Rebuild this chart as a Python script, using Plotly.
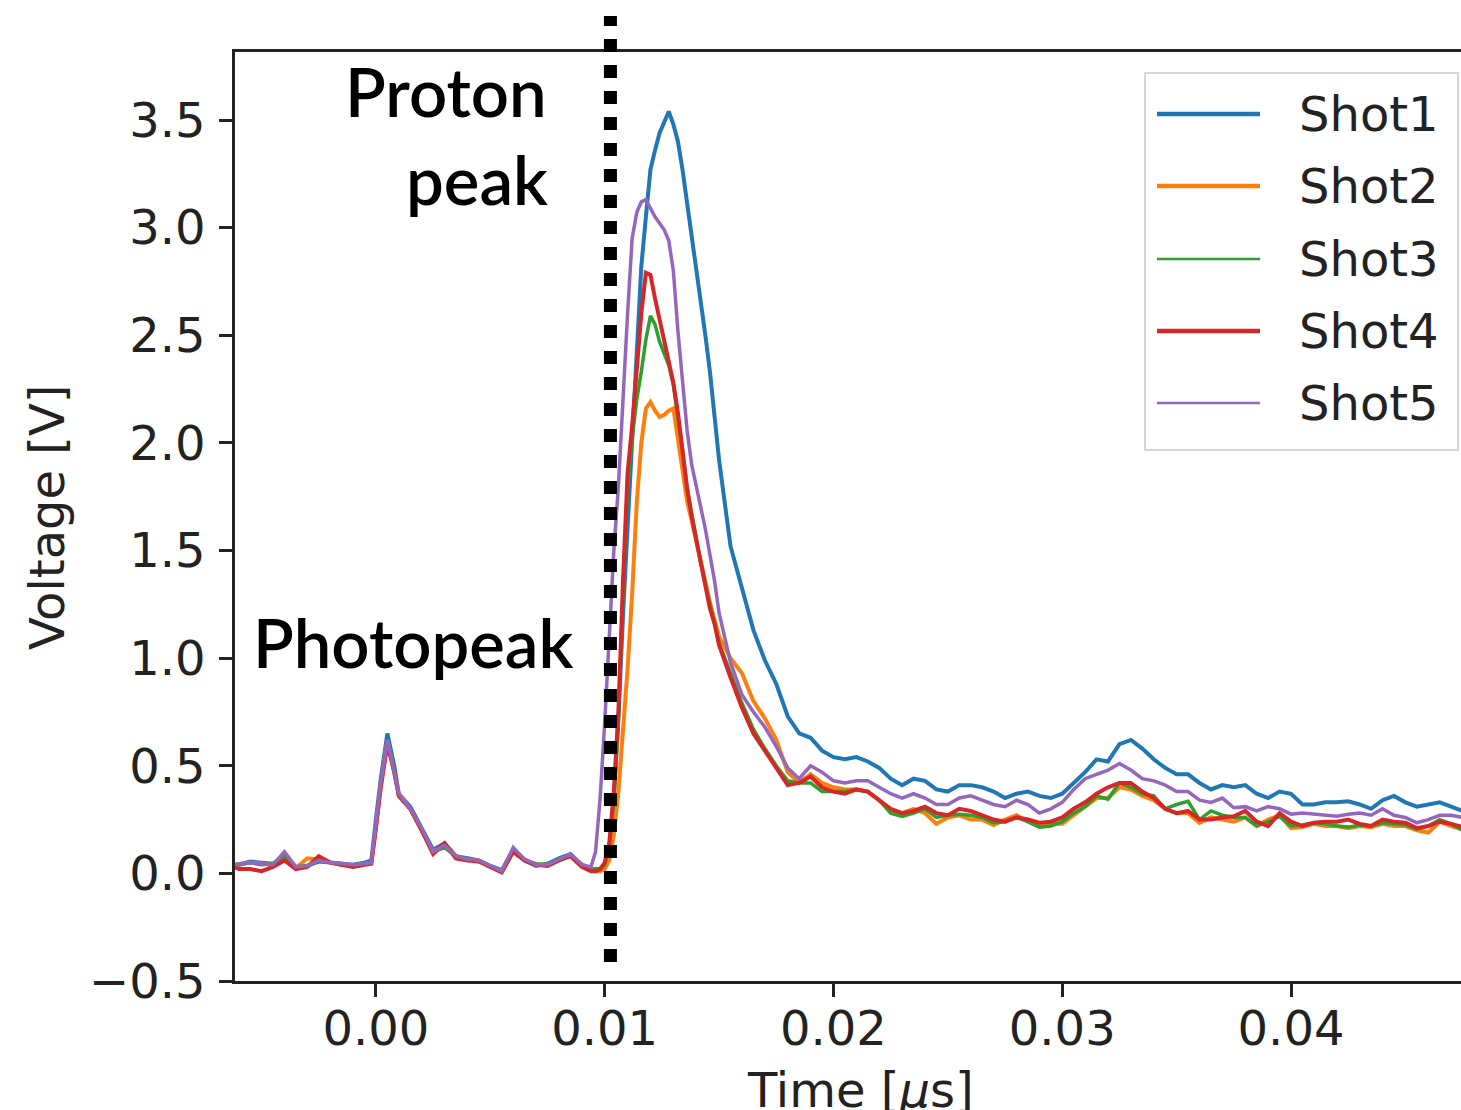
import plotly.graph_objects as go

# ---------------- data ----------------
time_us = [
    -0.0062, -0.0060, -0.0055, -0.0050, -0.0045, -0.0040, -0.0035, -0.0030, -0.0025, -0.0020, -0.0015, -0.0010, -0.0005, -0.0002,
    0.0000, 0.0002, 0.0005, 0.0008, 0.0010, 0.0015, 0.0020, 0.0025, 0.0030, 0.0035, 0.0040, 0.0045, 0.0050, 0.0055, 0.0060, 0.0065,
    0.0070, 0.0075, 0.0080, 0.0085, 0.0090, 0.0094,
    0.0096, 0.0098, 0.0100, 0.0102, 0.0104, 0.0106, 0.0108, 0.0110, 0.0112, 0.0114, 0.0116, 0.0118, 0.0120, 0.0122,
    0.0124, 0.0126, 0.0128, 0.0130, 0.0132, 0.0134, 0.0136, 0.0138, 0.0140, 0.0142, 0.0144, 0.0146, 0.0148, 0.0150,
    0.0155, 0.0160, 0.0165, 0.0170, 0.0175, 0.0180, 0.0185, 0.0190, 0.0195, 0.0200, 0.0205, 0.0210, 0.0215, 0.0220,
    0.0225, 0.0230, 0.0235, 0.0240, 0.0245, 0.0250, 0.0255, 0.0260, 0.0265, 0.0270, 0.0275, 0.0280, 0.0285, 0.0290,
    0.0295, 0.0300, 0.0305, 0.0310, 0.0315, 0.0320, 0.0325, 0.0330, 0.0335, 0.0340, 0.0345, 0.0350, 0.0355, 0.0360,
    0.0365, 0.0370, 0.0375, 0.0380, 0.0385, 0.0390, 0.0395, 0.0400, 0.0405, 0.0410, 0.0415, 0.0420, 0.0425, 0.0430,
    0.0435, 0.0440, 0.0445, 0.0450, 0.0455, 0.0460, 0.0465, 0.0470, 0.0475,
]

shot1 = [
    0.04, 0.04, 0.055, 0.05, 0.045, 0.08, 0.03, 0.035, 0.055, 0.05, 0.045, 0.04, 0.05, 0.06,
    0.25, 0.43, 0.65, 0.50, 0.37, 0.31, 0.21, 0.11, 0.14, 0.08, 0.07, 0.06, 0.035, 0.015, 0.11, 0.06,
    0.035, 0.045, 0.07, 0.09, 0.04, 0.02,
    0.02, 0.02, 0.04, 0.12, 0.35, 0.72, 1.20, 1.60, 1.98, 2.38, 2.82, 3.05, 3.27, 3.36,
    3.44, 3.49, 3.54, 3.48, 3.40, 3.27, 3.12, 2.97, 2.82, 2.66, 2.50, 2.33, 2.13, 1.92,
    1.52, 1.32, 1.13, 0.99, 0.88, 0.73, 0.65, 0.63, 0.57, 0.54, 0.53, 0.54, 0.52, 0.49,
    0.44, 0.41, 0.44, 0.43, 0.39, 0.38, 0.41, 0.41, 0.40, 0.38, 0.35, 0.37, 0.38, 0.36,
    0.35, 0.37, 0.42, 0.47, 0.53, 0.52, 0.60, 0.62, 0.58, 0.53, 0.49, 0.46, 0.46, 0.42,
    0.39, 0.41, 0.40, 0.41, 0.37, 0.35, 0.38, 0.37, 0.32, 0.32, 0.33, 0.33, 0.335, 0.32,
    0.30, 0.34, 0.36, 0.33, 0.31, 0.32, 0.33, 0.31, 0.29,
]

shot2 = [
    0.04, 0.04, 0.05, 0.045, 0.04, 0.08, 0.025, 0.07, 0.065, 0.05, 0.04, 0.035, 0.045, 0.05,
    0.22, 0.40, 0.62, 0.48, 0.37, 0.30, 0.20, 0.10, 0.13, 0.08, 0.065, 0.06, 0.03, 0.01, 0.11, 0.065,
    0.04, 0.04, 0.06, 0.085, 0.04, 0.02,
    0.01, 0.01, 0.02, 0.06, 0.18, 0.38, 0.65, 0.95, 1.30, 1.72, 2.00, 2.16, 2.19, 2.15,
    2.12, 2.13, 2.15, 2.16, 2.02, 1.88, 1.73, 1.64, 1.54, 1.44, 1.34, 1.26, 1.18, 1.10,
    1.00, 0.93, 0.80, 0.72, 0.62, 0.47, 0.42, 0.46, 0.42, 0.40, 0.39, 0.39, 0.38, 0.34,
    0.29, 0.28, 0.30, 0.28, 0.23, 0.26, 0.27, 0.25, 0.25, 0.225, 0.25, 0.27, 0.24, 0.22,
    0.23, 0.23, 0.27, 0.31, 0.35, 0.35, 0.40, 0.39, 0.36, 0.34, 0.30, 0.28, 0.28, 0.235,
    0.26, 0.25, 0.24, 0.26, 0.22, 0.25, 0.27, 0.21, 0.215, 0.23, 0.22, 0.22, 0.21, 0.22,
    0.215, 0.23, 0.22, 0.22, 0.20, 0.19, 0.24, 0.22, 0.205,
]

shot3 = [
    0.04, 0.04, 0.05, 0.04, 0.045, 0.08, 0.03, 0.035, 0.06, 0.05, 0.045, 0.035, 0.045, 0.05,
    0.22, 0.40, 0.62, 0.48, 0.36, 0.30, 0.20, 0.10, 0.12, 0.08, 0.065, 0.055, 0.035, 0.01, 0.11, 0.06,
    0.045, 0.04, 0.065, 0.085, 0.04, 0.02,
    0.02, 0.02, 0.04, 0.12, 0.34, 0.72, 1.30, 1.80, 2.02, 2.20, 2.33, 2.48, 2.59, 2.55,
    2.47, 2.41, 2.36, 2.27, 2.13, 1.97, 1.79, 1.67, 1.55, 1.44, 1.34, 1.25, 1.17, 1.07,
    0.93, 0.79, 0.67, 0.58, 0.50, 0.43, 0.42, 0.42, 0.38, 0.38, 0.38, 0.39, 0.38, 0.34,
    0.28, 0.265, 0.28, 0.30, 0.26, 0.27, 0.275, 0.27, 0.26, 0.235, 0.24, 0.26, 0.24, 0.215,
    0.22, 0.24, 0.28, 0.31, 0.36, 0.345, 0.42, 0.40, 0.37, 0.36, 0.30, 0.32, 0.335, 0.25,
    0.29, 0.27, 0.26, 0.26, 0.22, 0.24, 0.265, 0.22, 0.225, 0.235, 0.23, 0.22, 0.215, 0.225,
    0.22, 0.235, 0.23, 0.225, 0.205, 0.22, 0.25, 0.23, 0.20,
]

shot4 = [
    0.03, 0.02, 0.02, 0.01, 0.03, 0.06, 0.02, 0.03, 0.08, 0.05, 0.04, 0.03, 0.04, 0.045,
    0.21, 0.39, 0.60, 0.47, 0.36, 0.30, 0.20, 0.09, 0.14, 0.07, 0.06, 0.055, 0.03, 0.005, 0.10, 0.06,
    0.04, 0.035, 0.06, 0.08, 0.03, 0.01,
    0.01, 0.02, 0.05, 0.14, 0.38, 0.75, 1.36, 1.86, 2.08, 2.36, 2.60, 2.79, 2.78, 2.67,
    2.57, 2.47, 2.38, 2.28, 2.14, 1.96, 1.79, 1.66, 1.55, 1.46, 1.33, 1.23, 1.16, 1.06,
    0.91, 0.77, 0.65, 0.57, 0.49, 0.41, 0.42, 0.45, 0.40, 0.38, 0.37, 0.39, 0.38, 0.34,
    0.30, 0.28, 0.29, 0.31, 0.28, 0.27, 0.30, 0.29, 0.27, 0.25, 0.24, 0.26, 0.25, 0.235,
    0.24, 0.26, 0.30, 0.33, 0.37, 0.40, 0.42, 0.42, 0.38, 0.35, 0.30, 0.28, 0.29, 0.25,
    0.25, 0.26, 0.265, 0.29, 0.24, 0.22, 0.28, 0.24, 0.22, 0.235, 0.24, 0.24, 0.25, 0.23,
    0.22, 0.25, 0.24, 0.235, 0.21, 0.22, 0.24, 0.23, 0.215,
]

shot5 = [
    0.04, 0.045, 0.05, 0.045, 0.04, 0.10, 0.03, 0.035, 0.06, 0.05, 0.045, 0.04, 0.045, 0.05,
    0.23, 0.41, 0.62, 0.48, 0.37, 0.30, 0.21, 0.10, 0.13, 0.08, 0.065, 0.06, 0.035, 0.01, 0.12, 0.065,
    0.04, 0.04, 0.065, 0.09, 0.04, 0.03,
    0.10, 0.35, 0.70, 1.10, 1.50, 1.80, 2.22, 2.60, 2.95, 3.07, 3.12, 3.13, 3.09, 3.05,
    3.02, 2.99, 2.94, 2.80, 2.52, 2.27, 2.06, 1.90, 1.80, 1.70, 1.60, 1.48, 1.36, 1.21,
    0.98, 0.83, 0.75, 0.68, 0.59, 0.49, 0.44, 0.50, 0.47, 0.43, 0.42, 0.43, 0.43, 0.40,
    0.37, 0.35, 0.37, 0.35, 0.32, 0.32, 0.35, 0.36, 0.34, 0.32, 0.31, 0.34, 0.32, 0.28,
    0.30, 0.33, 0.39, 0.44, 0.46, 0.48, 0.51, 0.48, 0.44, 0.43, 0.41, 0.38, 0.38, 0.34,
    0.33, 0.35, 0.305, 0.31, 0.29, 0.31, 0.30, 0.275, 0.28, 0.275, 0.27, 0.265, 0.275, 0.28,
    0.27, 0.30, 0.27, 0.26, 0.235, 0.25, 0.27, 0.27, 0.26,
]

shot_names = ["Shot1", "Shot2", "Shot3", "Shot4", "Shot5"]
shot_values = [shot1, shot2, shot3, shot4, shot5]
shot_colors = ["#1f77b4", "#ff7f0e", "#2ca02c", "#d62728", "#9467bd"]
trace_widths = [4, 4, 3.5, 4, 3.5]
legend_widths = [4.5, 4.5, 2.5, 4.5, 2.5]

x_ticks = [0.00, 0.01, 0.02, 0.03, 0.04]
y_ticks = [-0.5, 0.0, 0.5, 1.0, 1.5, 2.0, 2.5, 3.0, 3.5]
proton_marker_time = 0.01025

# ---------------- layout geometry (pixels) ----------------
W, H = 1461, 1110
ML, MR, MT, MB = 235, 0, 52, 129
PW = W - ML - MR
PH = H - MT - MB


def px(xp):
    return (xp - ML) / PW


def py(yp):
    return (H - MB - yp) / PH


AX = "#222222"
TICKFONT = dict(family="DejaVu Sans", size=48, color=AX)

fig = go.Figure()
for name, ys, color, lw in zip(shot_names, shot_values, shot_colors, trace_widths):
    fig.add_trace(go.Scatter(x=time_us, y=ys, mode="lines", name=name,
                             line=dict(color=color, width=lw), showlegend=False))

fig.update_layout(
    width=W, height=H,
    margin=dict(l=ML, r=MR, t=MT, b=MB, pad=0),
    plot_bgcolor="white", paper_bgcolor="white",
    showlegend=False,
)
fig.update_xaxes(
    range=[-0.00616, 0.04743], tickvals=x_ticks, ticktext=[f"{v:.2f}" for v in x_ticks],
    ticks="outside", ticklen=13, tickwidth=2.5, tickcolor=AX,
    showline=True, linecolor=AX, linewidth=2.5, mirror=True,
    showgrid=False, zeroline=False, tickfont=TICKFONT, ticklabelstandoff=-9,
)
fig.update_yaxes(
    range=[-0.5, 3.816], tickvals=y_ticks, ticktext=[f"{v:.1f}".replace("-", "\u2212") for v in y_ticks],
    ticks="outside", ticklen=13, tickwidth=2.5, tickcolor=AX,
    showline=True, linecolor=AX, linewidth=2.5, mirror=False,
    showgrid=False, zeroline=False, tickfont=TICKFONT, ticklabelstandoff=4,
)

# dotted marker line at the proton peak onset
fig.add_shape(type="line", xref="x", yref="paper",
              x0=proton_marker_time, x1=proton_marker_time, y0=py(962), y1=py(16),
              line=dict(color="black", width=13, dash="13px,13px"), layer="above")

# legend drawn by hand (box, sample lines, labels)
fig.add_shape(type="rect", xref="paper", yref="paper",
              x0=px(1145), x1=px(1458), y0=py(450), y1=py(73),
              line=dict(color="#d6d6d6", width=2), fillcolor="rgba(255,255,255,0.85)", layer="above")
legend_y = [114, 186, 259, 331, 403]
for name, color, lw, yy in zip(shot_names, shot_colors, legend_widths, legend_y):
    fig.add_shape(type="line", xref="paper", yref="paper",
                  x0=px(1157), x1=px(1260), y0=py(yy), y1=py(yy),
                  line=dict(color=color, width=lw), layer="above")
    fig.add_annotation(xref="paper", yref="paper", x=px(1297), y=py(yy),
                       xanchor="left", yanchor="middle", text=name, showarrow=False,
                       font=dict(family="DejaVu Sans", size=48, color=AX))

# axis titles
fig.add_annotation(xref="paper", yref="paper", x=px(860), y=py(1090),
                   xanchor="center", yanchor="middle", text="Time [<i>μ</i>s]", showarrow=False,
                   font=dict(family="DejaVu Sans", size=48, color=AX))
fig.add_annotation(xref="paper", yref="paper", x=px(47), y=py(517),
                   xanchor="center", yanchor="middle", text="Voltage [V]", showarrow=False,
                   textangle=-90, font=dict(family="DejaVu Sans", size=48, color=AX))

# text labels
LBL = dict(family="Lato", size=67, color="black", weight=600)
fig.add_annotation(xref="paper", yref="paper", x=px(549), y=py(91),
                   xanchor="right", yanchor="middle", text="Proton", showarrow=False, font=LBL)
fig.add_annotation(xref="paper", yref="paper", x=px(550), y=py(179),
                   xanchor="right", yanchor="middle", text="peak", showarrow=False, font=LBL)
fig.add_annotation(xref="paper", yref="paper", x=px(251), y=py(642),
                   xanchor="left", yanchor="middle", text="Photopeak", showarrow=False, font=LBL)

fig.write_html("out.html", config={"displayModeBar": False},
               post_script="document.body.style.margin='0';document.body.style.overflow='hidden';")
